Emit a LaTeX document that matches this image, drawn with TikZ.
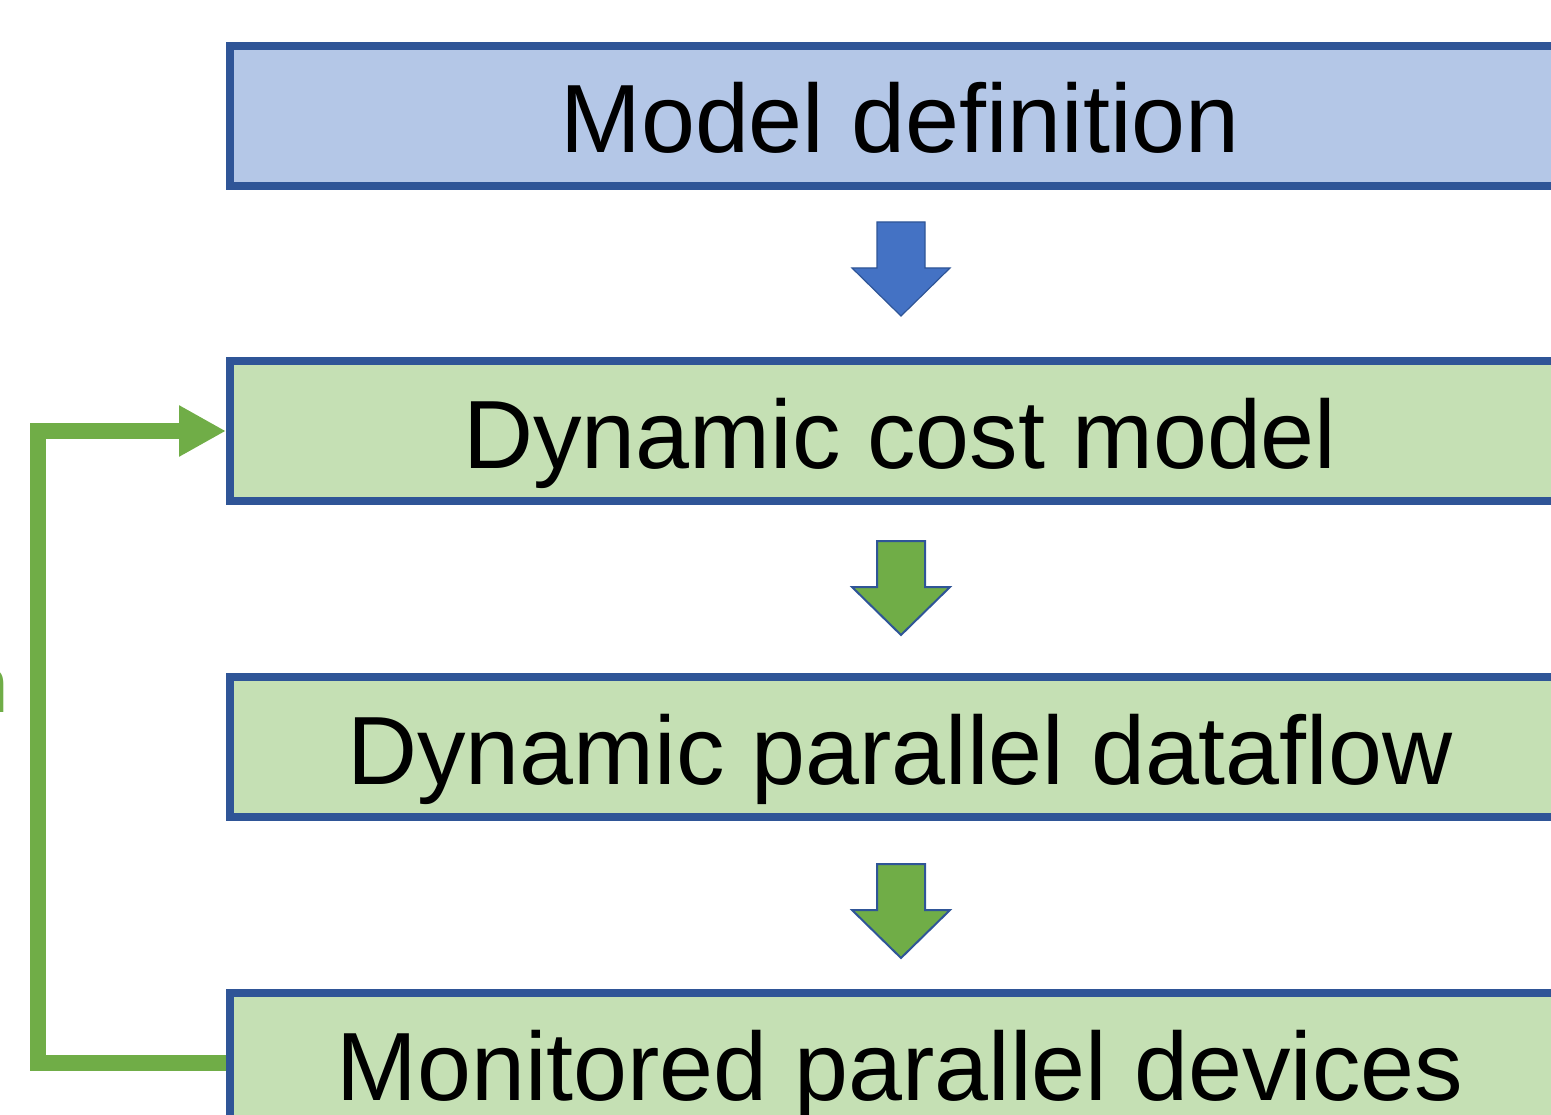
\documentclass[tikz,border=0pt]{standalone}
\usepackage{fontspec}
\setmainfont{Liberation Sans}
\usetikzlibrary{arrows.meta}
\definecolor{boxborder}{HTML}{2F5597}
\definecolor{bluefill}{HTML}{B4C7E7}
\definecolor{greenfill}{HTML}{C5E0B4}
\definecolor{bluearrow}{HTML}{4472C4}
\definecolor{greenarrow}{HTML}{70AD47}
\tikzset{
  stagebox/.style={draw=boxborder, line width=8pt, rectangle,
    minimum width=1340pt, minimum height=140pt, inner sep=0pt,
    text height=74pt, text depth=0pt,
    font=\fontsize{97}{110}\selectfont},
  downarrow/.pic={
    \path[pic actions] (-24,0) -- (24,0) -- (24,46) -- (49,46) -- (0,94)
      -- (-49,46) -- (-24,46) -- cycle;
  },
  feedback/.style={draw=greenarrow, line width=16pt, line join=miter,
    -{Triangle[length=47pt,width=48pt]}},
}
\begin{document}
\begin{tikzpicture}[x=1pt,y=-1pt]
\useasboundingbox (0,0) rectangle (1551,1115);
\clip (0,0) rectangle (1551,1115);
\node[stagebox, fill=bluefill] (m1) at (900,116) {Model definition};
\node[stagebox, fill=greenfill] (m2) at (900,431) {Dynamic cost model};
\node[stagebox, fill=greenfill] (m3) at (900,747) {Dynamic parallel dataflow};
\node[stagebox, fill=greenfill] (m4) at (900,1063) {Monitored parallel devices};
\pic[fill=bluearrow, draw=boxborder, line width=1.2pt] (a1) at (901,222) {downarrow};
\pic[fill=greenarrow, draw=boxborder, line width=2pt] (a2) at (901,541) {downarrow};
\pic[fill=greenarrow, draw=boxborder, line width=2pt] (a3) at (901,864) {downarrow};
\coordinate (fbx) at (38,431);
\draw[feedback] (m4.west) -| (fbx) -- (m2.west);
\node[anchor=base east, inner sep=0pt, text=greenarrow,
  font=\fontsize{80}{90}\selectfont] (frag) at (9.5,712) {n};
\end{tikzpicture}
\end{document}
